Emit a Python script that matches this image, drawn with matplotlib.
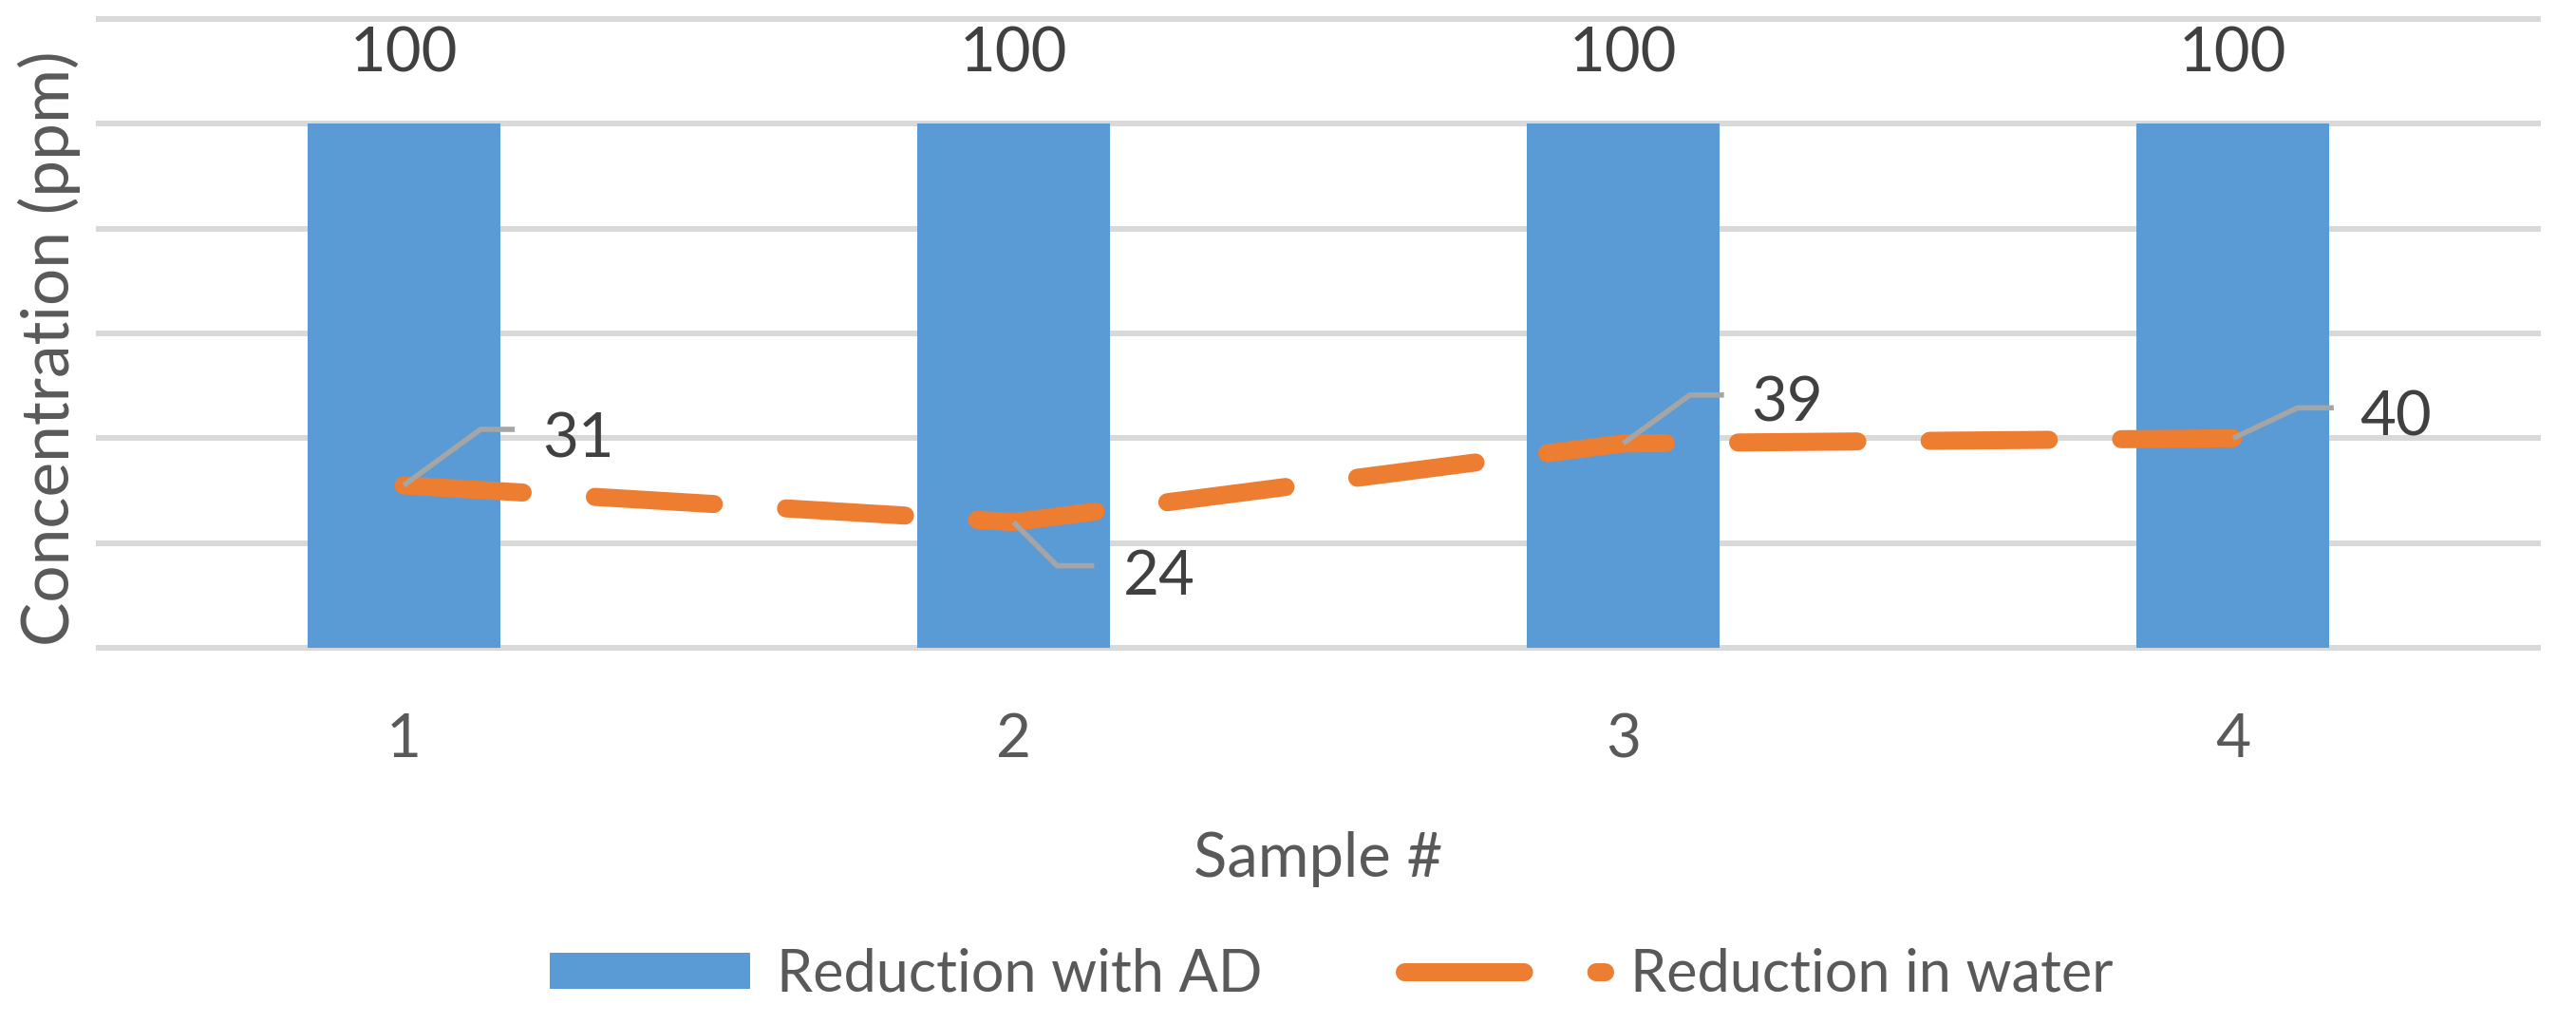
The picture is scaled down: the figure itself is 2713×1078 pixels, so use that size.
import numpy as np
import matplotlib
matplotlib.use('Agg')
import matplotlib.pyplot as plt
from matplotlib.lines import Line2D
from matplotlib.patches import Patch
from matplotlib.legend_handler import HandlerLine2D

# datos
muestras = ['1', '2', '3', '4']
reduccion_ad = [100, 100, 100, 100]
reduccion_agua = [31, 24, 39, 40]

# desplazamientos (px) de las etiquetas del agua: codo, fin de la guia, texto
codos = [(81, 59), (46, -46), (70, 51), (68, 32)]
fines = [(117, 59), (85, -46), (106, 51), (106, 32)]
textos = [(146, 29), (115, -76), (135, 23), (133, 3)]

azul = '#5B9BD5'
naranja = '#ED7D31'
gris_txt = '#595959'
gris_dato = '#404040'
gris_guia = '#A5A5A5'
gris_rejilla = '#D9D9D9'

plt.rcParams['font.family'] = ['Lato', 'DejaVu Sans']

W, H = 2713, 1078
fig = plt.figure(figsize=(W / 100, H / 100), dpi=100)
ax = fig.add_axes([104 / W, 1 - 682 / H, (2673 - 104) / W, (682 - 20) / H])

x = np.arange(len(muestras))
ax.bar(x, reduccion_ad, width=0.316, color=azul, zorder=2, label='Reduction with AD')
ax.plot(x, reduccion_agua, color=naranja, lw=13.7, dashes=(6.6, 4.0),
        dash_capstyle='round', solid_capstyle='round', zorder=3,
        label='Reduction in water')

ax.set_xlim(-0.5, 3.5)
ax.set_ylim(0, 120)
ax.set_yticks(np.arange(0, 121, 20))
ax.set_yticklabels([])
ax.set_xticks(x)
ax.set_xticklabels(muestras)
ax.tick_params(axis='both', length=0)
ax.tick_params(axis='x', pad=49, labelsize=46, labelcolor=gris_txt)
for s in ax.spines.values():
    s.set_visible(False)
ax.set_axisbelow(True)
ax.yaxis.grid(True, color=gris_rejilla, lw=4.3)
for g in ax.get_ygridlines():
    g.set_clip_on(False)

ax.set_xlabel('Sample #', fontsize=47, color=gris_txt, labelpad=48)
ax.set_ylabel('Concentration (ppm)', fontsize=50, color=gris_txt)
ax.yaxis.set_label_coords(-0.0074, 0.476)

# etiquetas de las barras
for i, v in enumerate(reduccion_ad):
    ax.annotate(str(v), xy=(x[i], v), xytext=(0, 55), textcoords='offset pixels',
                ha='center', va='baseline', fontsize=47, color=gris_dato)

# etiquetas de la linea con guia
inv = ax.transData.inverted()
for i, v in enumerate(reduccion_agua):
    px, py = ax.transData.transform((x[i], v))
    pts = [(px, py), (px + codos[i][0], py + codos[i][1]), (px + fines[i][0], py + fines[i][1])]
    datos = inv.transform(pts)
    ax.plot(datos[:, 0], datos[:, 1], color=gris_guia, lw=4, zorder=4,
            solid_capstyle='butt', solid_joinstyle='miter', clip_on=False)
    ax.annotate(str(v), xy=(x[i], v), xytext=textos[i], textcoords='offset pixels',
                ha='left', va='baseline', fontsize=47, color=gris_dato, zorder=5)

linea_leyenda = Line2D([], [], color=naranja, lw=13.7, dashes=(6.6, 4.0),
                       dash_capstyle='round', label='Reduction in water')
manejadores = [Patch(facecolor=azul, label='Reduction with AD'), linea_leyenda]
leg = fig.legend(handles=manejadores, loc='center', bbox_to_anchor=(0.517, 1 - 1026 / H),
                 ncol=2, frameon=False, fontsize=44, handlelength=3.45,
                 handleheight=0.58, handletextpad=0.45, columnspacing=2.45,
                 labelcolor=gris_txt,
                 handler_map={linea_leyenda: HandlerLine2D(marker_pad=0)})

fig.savefig('out.png', dpi=100)
